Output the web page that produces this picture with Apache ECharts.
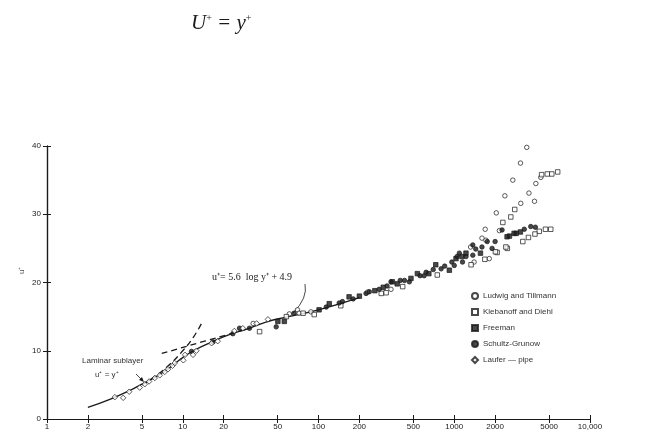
<!DOCTYPE html>
<html>
<head>
<meta charset="utf-8">
<script src="https://cdn.jsdelivr.net/npm/echarts@6/dist/echarts.min.js"></script>
<style>
  html, body { margin: 0; padding: 0; background: #fff; }
  #chart { width: 664px; height: 438px; }
</style>
</head>
<body>
<div id="chart"></div>
<script>
// tick values on the log y+ axis and their printed labels
var xTicks = [1, 2, 5, 10, 20, 50, 100, 200, 500, 1000, 2000, 5000, 10000];
var xTickLabels = ["1", "2", "5", "10", "20", "50", "100", "200", "500", "1000", "2000", "5000", "10,000"];

// [y+, u+]
var ludwigTillmann = [
  [3420, 39.8], [3075, 37.5], [2700, 35.0], [2360, 32.7], [2040, 30.2], [1690, 27.8],
  [4340, 35.4], [3990, 34.5], [3550, 33.1], [3900, 31.9], [3090, 31.6], [2150, 27.6],
  [1710, 26.2], [1810, 23.5], [1320, 25.2], [1400, 23.0], [1600, 26.5],
  [33, 14.0], [61, 15.4], [70, 16.0], [72, 15.5], [88, 15.7], [230, 18.6], [342, 19.0]
];
var klebanoffDiehl = [
  [4400, 35.8], [4850, 35.9], [5230, 35.9], [5780, 36.2],
  [2790, 30.7], [2610, 29.6], [2280, 28.8],
  [4700, 27.8], [5140, 27.8], [4230, 27.5], [3930, 27.1], [3520, 26.6], [3200, 26.0],
  [2460, 25.0], [2070, 24.4], [1680, 23.4], [1330, 22.6], [2010, 24.5], [2400, 25.2],
  [750, 21.1], [417, 19.4], [315, 18.5], [290, 18.4], [146, 16.6], [93, 15.3],
  [77, 15.5], [58, 15.0], [36.8, 12.8]
];
var freeman = [
  [50.2, 14.3], [56, 14.3], [101, 16.0], [120, 16.9], [168, 17.9], [200, 18.0],
  [260, 18.8], [300, 19.3], [350, 20.1], [380, 19.8], [480, 20.6], [535, 21.3],
  [650, 21.3], [731, 22.6], [920, 21.8], [1030, 23.5], [1140, 23.8], [1220, 24.3],
  [1560, 24.3], [2450, 26.7], [2550, 26.8], [2760, 27.2], [2860, 27.2], [3070, 27.4]
];
var schultzGrunow = [
  [11.6, 9.9], [16.7, 11.3], [23.4, 12.5], [26.2, 13.3], [31, 13.3], [48.8, 13.5],
  [66, 15.5], [114, 16.4], [142, 17.0], [150, 17.2], [180, 17.6], [224, 18.4],
  [237, 18.65], [280, 19.0], [320, 19.5], [342, 20.1], [400, 20.3], [430, 20.3],
  [467, 20.1], [560, 21.0], [600, 21.0], [620, 21.5], [700, 21.9], [800, 22.0],
  [850, 22.4], [960, 23.0], [1000, 22.5], [1050, 23.8], [1090, 24.3], [1150, 23.0],
  [1220, 23.8], [1370, 25.5], [1370, 24.0], [1440, 24.9], [1600, 25.2], [1750, 26.0],
  [1900, 25.0], [2000, 26.0], [2250, 27.7], [3280, 27.8], [3660, 28.2], [3960, 28.1]
];
var lauferPipe = [
  [3.16, 3.2], [3.64, 3.1], [4.03, 4.0], [4.82, 4.6], [5.25, 5.1], [5.65, 5.5],
  [6.22, 6.0], [6.77, 6.4], [7.37, 6.9], [7.79, 7.3], [8.41, 7.8], [8.73, 8.2],
  [10.1, 8.6], [10.4, 9.4], [11.9, 9.4], [12.6, 10.0], [16.3, 11.1], [18.1, 11.4],
  [24.0, 12.9], [27.7, 13.3], [35, 14.0], [42.4, 14.6]
];

// curves
var fitCurve = [
  [2, 1.7], [3, 3.0], [4, 4.1], [5, 5.1], [6, 5.9], [7.5, 7.1], [9, 8.3], [10, 9.0],
  [12, 10.0], [16, 11.2], [23, 12.5], [30, 13.2], [41, 14.2], [60, 15.0], [100, 16.0], [200, 17.8]
];
var sublayerLine = [[5, 5], [6, 6], [8, 8], [10, 10], [12, 12], [14, 14.3]];
var logLawDash = [[7, 9.6], [30, 13.2]];

function toLog(arr) {
  return arr.map(function (p) { return [Math.log10(p[0]), p[1]]; });
}

var chart = echarts.init(document.getElementById("chart"));
var ink = "#1a1a1a";
var tickLogs = xTicks.map(function (v) { return Math.log10(v); });

function xLabel(v) {
  for (var i = 0; i < tickLogs.length; i++) {
    if (Math.abs(tickLogs[i] - v) < 1e-6) return xTickLabels[i];
  }
  return "";
}

function scatter(name, data, symbol, filled, size) {
  return {
    name: name,
    type: "scatter",
    data: toLog(data),
    symbol: symbol,
    symbolSize: size,
    xAxisIndex: 0,
    yAxisIndex: 0,
    itemStyle: {
      color: filled ? ink : "#fff",
      borderColor: ink,
      borderWidth: 0.9
    },
    z: 3
  };
}

function curve(data, dashed) {
  return {
    type: "line",
    data: toLog(data),
    smooth: true,
    showSymbol: false,
    silent: true,
    lineStyle: { color: ink, width: 1.3, type: dashed ? [6, 4] : "solid" },
    z: 2
  };
}

var axisCommon = {
  axisLine: { show: true, lineStyle: { color: ink, width: 1.2 } },
  axisTick: { show: true, inside: true, length: 4, lineStyle: { color: ink } },
  splitLine: { show: false }
};

chart.setOption({
  animation: false,
  backgroundColor: "#fff",
  title: {
    text: "{m|U}{s|+}{m| = y}{s|+}",
    left: 186,
    top: 8,
    textStyle: {
      fontWeight: "normal",
      rich: {
        m: {
          fontFamily: "Liberation Serif", fontStyle: "italic", fontWeight: "normal",
          fontSize: 21, color: ink, verticalAlign: "bottom"
        },
        s: {
          fontFamily: "Liberation Serif", fontSize: 10, fontWeight: "normal", color: ink,
          verticalAlign: "top", padding: [0, 0, 10, 0]
        }
      }
    }
  },
  grid: { left: 47, right: 74, top: 146, bottom: 19 },
  legend: {
    orient: "vertical",
    left: 466,
    top: 287,
    itemWidth: 6,
    itemHeight: 6,
    itemGap: 8,
    textStyle: { fontSize: 8, color: "#333", fontFamily: "Liberation Sans" },
    data: ["Ludwig and Tillmann", "Klebanoff and Diehl", "Freeman", "Schultz-Grunow", "Laufer \u2014 pipe"]
  },
  xAxis: [
    Object.assign({}, axisCommon, {
      type: "value", min: 0, max: 4, position: "bottom",
      axisTick: Object.assign({}, axisCommon.axisTick, { customValues: tickLogs }),
      axisLabel: {
        customValues: tickLogs, formatter: xLabel, fontSize: 8, margin: 4,
        color: ink, fontFamily: "Liberation Sans"
      }
    }),
    Object.assign({}, axisCommon, {
      type: "value", min: 0, max: 4, position: "top",
      axisTick: Object.assign({}, axisCommon.axisTick, { customValues: tickLogs }),
      axisLabel: { show: false }
    })
  ],
  yAxis: [
    Object.assign({}, axisCommon, {
      type: "value", min: 0, max: 40, interval: 10, position: "left",
      axisLabel: { fontSize: 8, margin: 6, color: ink, fontFamily: "Liberation Sans" }
    }),
    Object.assign({}, axisCommon, {
      type: "value", min: 0, max: 40, interval: 10, position: "right",
      axisLabel: { show: false }
    })
  ],
  graphic: [
    {
      // y axis title, rotated like the original
      type: "text", x: 18, y: 274, rotation: Math.PI / 2,
      style: { text: "u\u207A", font: "8px 'Liberation Sans'", fill: "#555" }
    },
    {
      type: "text", left: 212, top: 272,
      style: {
        text: "u\u207A= 5.6  log y\u207A + 4.9",
        font: "10px 'Liberation Serif'", fill: ink
      }
    },
    {
      type: "bezierCurve",
      shape: { x1: 305, y1: 284, x2: 293, y2: 313, cpx1: 308, cpy1: 298 },
      style: { stroke: ink, lineWidth: 0.8, fill: null }
    },
    {
      type: "text", left: 82, top: 357,
      style: { text: "Laminar sublayer", font: "8px 'Liberation Sans'", fill: "#333" }
    },
    {
      type: "text", left: 95, top: 371,
      style: { text: "u\u207A = y\u207A", font: "8px 'Liberation Sans'", fill: "#333" }
    },
    {
      type: "line",
      shape: { x1: 136, y1: 374, x2: 143, y2: 381 },
      style: { stroke: ink, lineWidth: 0.8 }
    },
    {
      type: "polygon",
      shape: { points: [[144, 382], [139, 380], [142, 377]] },
      style: { fill: ink }
    }
  ],
  series: [
    curve(fitCurve, false),
    curve(sublayerLine, true),
    curve(logLawDash, true),
    scatter("Ludwig and Tillmann", ludwigTillmann, "circle", false, 4.5),
    scatter("Klebanoff and Diehl", klebanoffDiehl, "rect", false, 4.5),
    scatter("Freeman", freeman, "rect", true, 4.5),
    scatter("Schultz-Grunow", schultzGrunow, "circle", true, 4.5),
    scatter("Laufer \u2014 pipe", lauferPipe, "diamond", false, 5.5)
  ]
});
</script>
</body>
</html>
